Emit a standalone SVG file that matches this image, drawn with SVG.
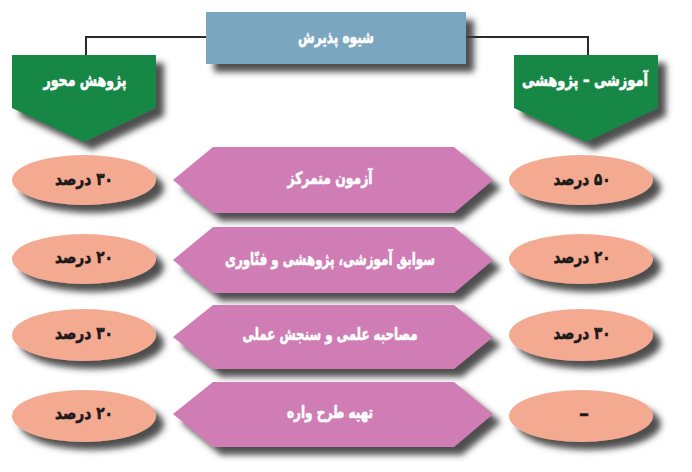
<svg xmlns="http://www.w3.org/2000/svg" width="692" height="472" viewBox="0 0 692 472">
<defs>
<filter id="sh" x="-20%" y="-30%" width="150%" height="180%">
<feGaussianBlur in="SourceAlpha" stdDeviation="3"/>
<feOffset dx="8" dy="8" result="b"/>
<feFlood flood-color="#3c3c3c" flood-opacity="0.9"/>
<feComposite in2="b" operator="in"/>
<feMerge><feMergeNode/><feMergeNode in="SourceGraphic"/></feMerge>
</filter>
<style>
.t{font-family:"DejaVu Sans","Noto Sans",sans-serif;font-weight:bold;font-size:17px;text-anchor:middle;dominant-baseline:central;direction:rtl;stroke-width:0.6;stroke-linejoin:round}
.w{fill:#ffffff;stroke:#ffffff}
.k{fill:#1a1a1a;stroke:#1a1a1a}
.top{fill:#7aa7bf;filter:url(#sh)}
.grn{fill:#128744;filter:url(#sh)}
.hex{fill:#cf7db4;filter:url(#sh)}
.ell{fill:#f4aa91;filter:url(#sh)}
.con{fill:none;stroke:#2a2a2a;stroke-width:2}
</style>
</defs>
<rect width="692" height="472" fill="#ffffff"/>
<g id="connectors">
<path class="con" d="M206,37 H86 V55"/>
<path class="con" d="M466,37 H588 V55"/>
</g>
<g id="top">
<rect class="top" x="206" y="12" width="260" height="52"/>
<text class="t w" x="336" y="37" textLength="76" lengthAdjust="spacingAndGlyphs">شیوه پذیرش</text>
</g>
<g id="left-head">
<path class="grn" d="M12,55 H156 V108 L84,142 L12,108 Z"/>
<text class="t w" x="85" y="80" textLength="83" lengthAdjust="spacingAndGlyphs">پژوهش محور</text>
</g>
<g id="right-head">
<path class="grn" d="M514,55 H658 V108 L586,142 L514,108 Z"/>
<text class="t w" x="585" y="80" textLength="126" lengthAdjust="spacingAndGlyphs">آموزشی – پژوهشی</text>
</g>
<g id="row1">
<path class="hex" d="M213,147 H454 L493,180 L454,213 H213 L173,180 Z"/>
<text class="t w" x="330" y="178" textLength="85" lengthAdjust="spacingAndGlyphs">آزمون متمرکز</text>
</g>
<g id="row2">
<path class="hex" d="M213,227 H454 L493,260 L454,293 H213 L173,260 Z"/>
<text class="t w" x="330" y="259" textLength="210" lengthAdjust="spacingAndGlyphs">سوابق آموزشی، پژوهشی و فنّاوری</text>
</g>
<g id="row3">
<path class="hex" d="M213,305 H454 L493,337 L454,369 H213 L173,337 Z"/>
<text class="t w" x="330" y="334" textLength="175" lengthAdjust="spacingAndGlyphs">مصاحبه علمی و سنجش عملی</text>
</g>
<g id="row4">
<path class="hex" d="M213,382 H454 L493,414 L454,447 H213 L173,414 Z"/>
<text class="t w" x="330" y="412" textLength="86" lengthAdjust="spacingAndGlyphs">تهیه طرح واره</text>
</g>
<g id="l1"><ellipse class="ell" cx="84" cy="180" rx="72" ry="25"/><text class="t k" x="84" y="179" textLength="58" lengthAdjust="spacingAndGlyphs">۳۰ درصد</text></g>
<g id="l2"><ellipse class="ell" cx="84" cy="259" rx="72" ry="25"/><text class="t k" x="84" y="257" textLength="58" lengthAdjust="spacingAndGlyphs">۲۰ درصد</text></g>
<g id="l3"><ellipse class="ell" cx="84" cy="335" rx="72" ry="26"/><text class="t k" x="84" y="333" textLength="58" lengthAdjust="spacingAndGlyphs">۳۰ درصد</text></g>
<g id="l4"><ellipse class="ell" cx="84" cy="416" rx="72" ry="26"/><text class="t k" x="84" y="413" textLength="58" lengthAdjust="spacingAndGlyphs">۲۰ درصد</text></g>
<g id="r1"><ellipse class="ell" cx="581" cy="180" rx="72" ry="25"/><text class="t k" x="582" y="179" textLength="57" lengthAdjust="spacingAndGlyphs">۵۰ درصد</text></g>
<g id="r2"><ellipse class="ell" cx="581" cy="259" rx="72" ry="25"/><text class="t k" x="582" y="257" textLength="57" lengthAdjust="spacingAndGlyphs">۲۰ درصد</text></g>
<g id="r3"><ellipse class="ell" cx="581" cy="335" rx="72" ry="26"/><text class="t k" x="582" y="333" textLength="57" lengthAdjust="spacingAndGlyphs">۳۰ درصد</text></g>
<g id="r4"><ellipse class="ell" cx="581" cy="416" rx="72" ry="26"/><text class="t k" x="584" y="413" style="font-size:20px">–</text></g>
</svg>
